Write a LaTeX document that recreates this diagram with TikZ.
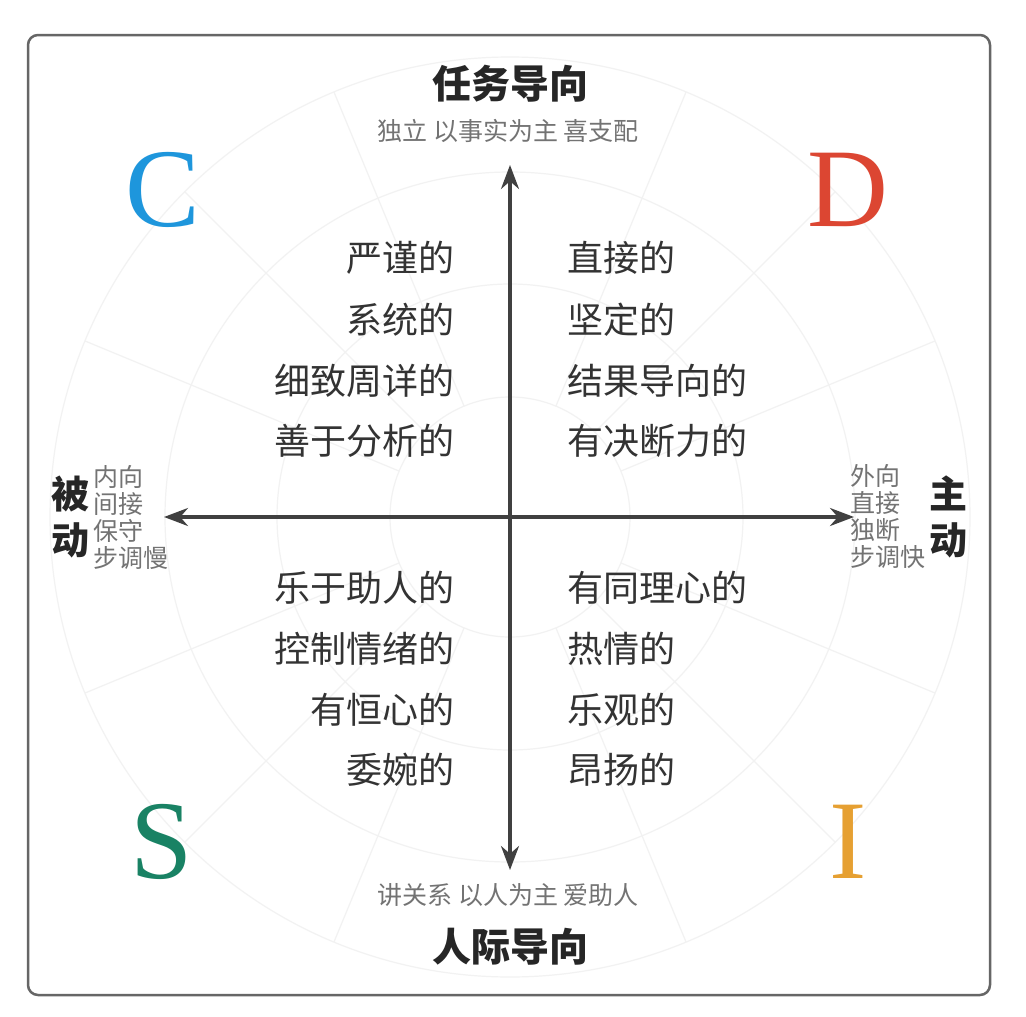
\documentclass[tikz,border=0pt]{standalone}
\usepackage{fontspec}
\setmainfont{Liberation Serif}
\newfontfamily\cjk{Noto Sans CJK SC}
\newfontfamily\cjkm{Noto Sans CJK SC Medium}
\usetikzlibrary{arrows.meta,calc}
\begin{document}
\begin{tikzpicture}[x=1pt,y=-1pt,
  faint/.style={draw=black!5,line width=1.2pt},
  quad/.style={font=\cjk\fontsize{36}{36}\selectfont,text=black!80,inner sep=0pt},
  title/.style={font=\cjk\fontsize{39}{39}\selectfont\bfseries,text=black!85,inner sep=0pt},
  sub/.style={font=\cjk\fontsize{25}{25}\selectfont,text=black!55,inner sep=0pt},
  side/.style={font=\cjk\fontsize{25}{27}\selectfont,text=black!55,inner sep=0pt,align=left},
  sidet/.style={font=\cjk\fontsize{38}{46}\selectfont\bfseries,text=black!85,inner sep=0pt,align=center},
  letter/.style={font=\fontsize{112}{112}\selectfont,inner sep=0pt},
  axis/.style={draw=black!75,line width=3.2pt,{Stealth[length=24pt,width=18pt]}-{Stealth[length=24pt,width=18pt]}}]
\useasboundingbox (0,0) rectangle (1026,1017);
\fill[white] (0,0) rectangle (1026,1017);
\draw[black!60,line width=2.5pt,rounded corners=10pt] (28,35) rectangle (990,995);
\coordinate (o) at (510,517);
\begin{scope}
\clip (30,37) rectangle (988,993);
\foreach \r in {120,233,345,460} \draw[faint] (o) circle (\r);
\foreach \a in {22.5,45,67.5,112.5,135,157.5,202.5,225,247.5,292.5,315,337.5}
  \draw[faint] ($(o)+(\a:120)$) -- ($(o)+(\a:460)$);
\end{scope}
\coordinate (top) at (510,165);
\coordinate (bot) at (510,870);
\coordinate (lft) at (164,517);
\coordinate (rgt) at (854,517);
\draw[axis] (bot) -- (top);
\draw[axis] (lft) -- (rgt);
\node[title] (tt) at (510,84) {任务导向};
\node[sub] (ts) at (508,131) {独立 以事实为主 喜支配};
\node[sub] (bs) at (508,895) {讲关系 以人为主 爱助人};
\node[title] (bt) at (510,947) {人际导向};
\node[sidet] (lt) at (70,517) {被\\动};
\node[side] (ls) at (131,517) {内向\\间接\\保守\\步调慢};
\node[sidet] (rt) at (948,517) {主\\动};
\node[side] (rs) at (888,517) {外向\\直接\\独断\\步调快};
\node[letter,text={rgb,255:red,30;green,150;blue,220}] (c) at (163,190) {C};
\node[letter,text={rgb,255:red,220;green,70;blue,50}] (d) at (848,190) {D};
\node[letter,text={rgb,255:red,25;green,130;blue,100}] (s) at (162,842) {S};
\node[letter,text={rgb,255:red,230;green,160;blue,50}] (i) at (848,842) {I};
\foreach \t/\y [count=\k] in {严谨的/258,系统的/320,细致周详的/381,善于分析的/441}
  \node[quad,anchor=east] (cq\k) at (455,\y) {\t};
\foreach \t/\y [count=\k] in {直接的/258,坚定的/320,结果导向的/381,有决断力的/441}
  \node[quad,anchor=west] (dq\k) at (567,\y) {\t};
\foreach \t/\y [count=\k] in {乐于助人的/588,控制情绪的/649,有恒心的/710,委婉的/770}
  \node[quad,anchor=east] (sq\k) at (455,\y) {\t};
\foreach \t/\y [count=\k] in {有同理心的/588,热情的/649,乐观的/710,昂扬的/770}
  \node[quad,anchor=west] (iq\k) at (567,\y) {\t};
\end{tikzpicture}
\end{document}
